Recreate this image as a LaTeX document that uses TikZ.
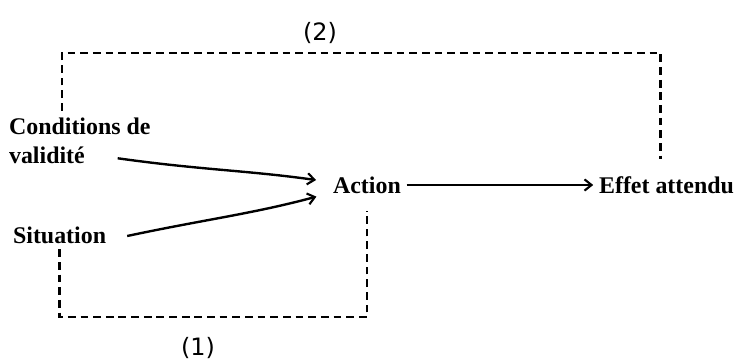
\documentclass[tikz,border=0pt]{standalone}
\usepackage{fontspec}
\setmainfont{Liberation Serif}
\newfontfamily\numfont{DejaVu Sans}
\usepackage{tikz}
\usetikzlibrary{positioning,arrows.meta,calc}

\tikzset{
  lbl/.style={font=\bfseries\fontsize{17}{21}\selectfont, inner sep=2pt, align=left},
  num/.style={font=\numfont\fontsize{17}{20}\selectfont, inner sep=1pt},
  fb/.style={line width=2pt, dash pattern=on 5.5pt off 3.5pt},
  wave/.style={line width=1.7pt, -{Straight Barb[length=5pt,width=8pt,line width=1.5pt]}},
  arr/.style={line width=1pt, -{Straight Barb[length=5pt,width=8pt,line width=1.5pt]}}
}

\begin{document}
\begin{tikzpicture}[x=0.025cm, y=-0.025cm]
  \useasboundingbox (0,0) rectangle (739,363);
  % labels
  \node[lbl, anchor=west] (cond) at (6,141) {Conditions de\\validité};
  \node[lbl, anchor=west] (sit) at (10,235) {Situation};
  \node[lbl, anchor=west] (act) at (330,185) {Action};
  \node[lbl, anchor=east] (eff) at (737,185) {Effet attendu};
  \node[num] (n2) at (320,33) {(2)};
  \node[num] (n1) at (198,348) {(1)};
  \coordinate (top2) at (0,53);
  \coordinate (bot1) at (0,317);
  \coordinate (c2) at ($(cond.north west)+(56,-4)$);
  % inputs of the action
  \draw[wave, shorten >=10pt] ($(cond.south east)+(-36,-9)$) to[out=-8, in=172] ($(act.west)+(0,-3)$);
  \draw[wave, shorten >=10pt] ($(sit.east)+(18,1)$) to[out=12, in=195] ($(act.west)+(0,8)$);
  \draw[arr, shorten <=2pt, shorten >=2pt] (act) -- (eff);
  % loops
  \draw[fb] (c2) -- (c2 |- top2) -| ([xshift=-4pt, yshift=10pt]eff.north);
  \draw[fb, shorten <=2pt] (sit.south) -- (sit.south |- bot1) -| ([yshift=-10pt]act.south);
\end{tikzpicture}
\end{document}
